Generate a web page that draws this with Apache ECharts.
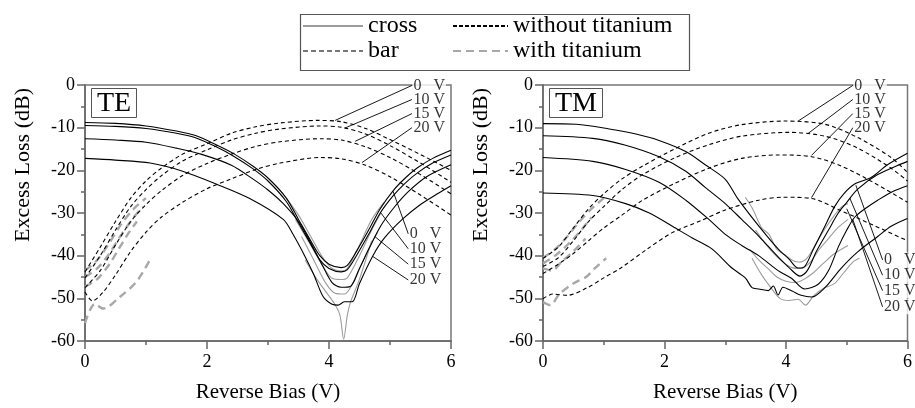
<!DOCTYPE html>
<html>
<head>
<meta charset="utf-8">
<title>Excess loss vs reverse bias</title>
<script src="https://cdn.jsdelivr.net/npm/echarts@6/dist/echarts.min.js"></script>
<style>
  html, body { margin: 0; padding: 0; background: #fff; }
  #main { width: 915px; height: 408px; }
</style>
</head>
<body>
<div id="main"></div>
<script>
// values, [reverse bias (V), excess loss (dB)]
var voltLabels = ['0   V', '10 V', '15 V', '20 V'];

// ---- TE ----
// cross, without titanium (black solid)
var teCross0 = [[0,-8.8],[0.5,-9.0],[1,-9.6],[1.5,-10.8],[1.8,-11.8],[2.15,-14],[2.45,-16.2],[2.75,-19],[3,-21.8],[3.3,-26.5],[3.5,-31.5],[3.7,-36.5],[3.85,-40],[4,-42],[4.2,-42.8],[4.3,-42.3],[4.45,-39],[4.65,-34],[4.84,-29],[5.05,-24.8],[5.25,-21.8],[5.45,-19.4],[5.7,-17.2],[6,-15.3]];
var teCross10 = [[0,-9.5],[0.5,-9.7],[1,-10.2],[1.5,-11.3],[1.8,-12.3],[2.15,-14.5],[2.45,-16.8],[2.75,-19.6],[3,-22.5],[3.3,-27.3],[3.5,-32.3],[3.7,-37.3],[3.85,-41],[4,-43],[4.2,-43.8],[4.3,-43.3],[4.45,-40],[4.65,-35],[4.84,-30],[5.05,-26],[5.25,-23],[5.45,-20.6],[5.7,-18.3],[6,-16.4]];
var teCross15 = [[0,-12.6],[0.5,-12.9],[1,-13.4],[1.5,-14.8],[1.9,-16.2],[2.4,-18.8],[2.75,-22],[3,-24.6],[3.25,-27.8],[3.5,-32],[3.7,-37],[3.9,-42.5],[4.05,-46.3],[4.2,-47.4],[4.35,-47.2],[4.5,-43],[4.65,-38.5],[4.85,-33],[5.05,-29],[5.3,-25],[5.6,-21.5],[6,-18.7]];
var teCross20 = [[0,-17.2],[0.5,-17.6],[1.07,-18.3],[1.6,-20.2],[2.15,-23.2],[2.7,-26.6],[3.25,-31.5],[3.41,-35],[3.6,-40],[3.75,-44.4],[3.9,-49.5],[4.05,-51.4],[4.15,-51.6],[4.25,-50.8],[4.38,-50.8],[4.5,-46.5],[4.72,-40],[4.9,-36],[5.2,-31.5],[5.5,-28],[5.8,-25.3],[6,-23.6]];
// cross, with titanium (grey solid)
var teCrossTi0 = [[3.3,-26.5],[3.5,-30.5],[3.7,-35.5],[3.9,-40.5],[4.05,-43],[4.2,-43.6],[4.3,-43],[4.5,-37.5],[4.7,-31.5],[4.9,-27.5]];
var teCrossTi10 = [[3.45,-31.5],[3.7,-37.5],[3.9,-42.5],[4.05,-45.3],[4.2,-45.6],[4.3,-45.2],[4.5,-40],[4.7,-34],[4.85,-30]];
var teCrossTi15 = [[3.55,-35.5],[3.75,-41],[3.95,-46.5],[4.1,-48.8],[4.25,-49],[4.35,-47.5],[4.5,-43],[4.7,-37],[4.8,-34.5]];
var teCrossTi20 = [[3.61,-41],[3.8,-45.5],[3.95,-48.5],[4.1,-51.5],[4.18,-54],[4.24,-59.6],[4.3,-54],[4.35,-51],[4.5,-45.5],[4.7,-36.5]];
// bar, without titanium (black dashed)
var teBar0 = [[0,-43.8],[0.25,-38],[0.5,-32],[0.75,-26.5],[1,-22.5],[1.25,-19.5],[1.6,-16.2],[2,-13.8],[2.4,-11.3],[2.8,-9.8],[3.2,-8.9],[3.8,-8.3],[4.2,-8.6],[4.6,-10.2],[5,-12.8],[5.5,-16.3],[6,-20]];
var teBar10 = [[0,-45.2],[0.25,-40],[0.5,-34],[0.75,-28.5],[1,-24.5],[1.25,-21.3],[1.6,-17.8],[2,-15.2],[2.4,-12.9],[2.8,-11.3],[3.2,-10.3],[3.85,-9.6],[4.2,-9.9],[4.6,-11.5],[5,-14.2],[5.5,-18.3],[6,-22.8]];
var teBar15 = [[0,-47.5],[0.25,-43.5],[0.5,-37.5],[0.75,-32],[1,-28],[1.25,-24.8],[1.6,-21.2],[2,-18.4],[2.4,-16.2],[2.8,-14.4],[3.2,-13.3],[3.85,-12.6],[4.2,-12.9],[4.6,-14.5],[5,-17],[5.5,-21],[6,-25.5]];
var teBar20 = [[0,-48.5],[0.12,-50.6],[0.3,-48.5],[0.5,-44.5],[0.75,-39],[1,-34.5],[1.25,-31],[1.6,-27.5],[2,-24.3],[2.4,-22],[2.8,-19.8],[3.2,-18.3],[3.85,-17],[4.2,-17.3],[4.6,-18.8],[5,-21.5],[5.5,-25.8],[6,-30.5]];
// bar, with titanium (grey dashed)
var teBarTi0 = [[0,-43.5],[0.2,-41],[0.4,-37],[0.6,-32.5],[0.8,-29],[1,-26.5]];
var teBarTi10 = [[0,-45],[0.2,-43],[0.4,-39.5],[0.6,-35],[0.8,-31],[0.95,-28.5]];
var teBarTi15 = [[0,-47.3],[0.2,-45.5],[0.4,-42],[0.55,-38.5],[0.7,-35],[0.85,-32]];
var teBarTi20 = [[0,-55.8],[0.16,-51.3],[0.3,-52.4],[0.57,-49.7],[0.85,-46],[1.09,-40.3]];

// ---- TM ----
var tmCross0 = [[0,-9.05],[0.55,-9.2],[1.09,-10.3],[1.53,-11.5],[1.91,-13],[2.35,-15.6],[2.67,-18.7],[3.0,-22.1],[3.2,-26.5],[3.55,-33],[3.87,-38.4],[4.05,-40.8],[4.2,-42.9],[4.31,-42.5],[4.45,-38.5],[4.64,-33.1],[4.8,-28.5],[4.95,-25.5],[5.13,-23.2],[5.4,-21.7],[5.67,-18.7],[6,-16]];
var tmCross10 = [[0,-11.9],[0.82,-12.5],[1.36,-14.1],[1.91,-16.8],[2.35,-20.2],[2.67,-24],[3.0,-27.8],[3.27,-31.5],[3.55,-35.4],[3.87,-40.3],[4.05,-42.8],[4.23,-44.8],[4.35,-43.5],[4.5,-39],[4.7,-34],[4.86,-30],[5.0,-27.5],[5.18,-24.4],[5.51,-21],[6,-17.9]];
var tmCross15 = [[0,-17],[0.82,-17.9],[1.36,-19.8],[1.91,-22.8],[2.35,-27],[2.73,-31.5],[3.0,-35],[3.27,-37.6],[3.55,-40],[3.87,-43.5],[4.09,-45.3],[4.31,-47.8],[4.53,-46.7],[4.7,-43.5],[4.86,-38],[5.0,-34],[5.13,-31],[5.3,-29],[5.51,-27],[5.75,-25],[6,-23.6]];
var tmCross20 = [[0,-25.3],[0.82,-25.9],[1.36,-27.8],[1.75,-30],[2.13,-33.1],[2.45,-35.8],[2.78,-38.4],[3.11,-42.9],[3.33,-45.2],[3.44,-47.5],[3.55,-47.8],[3.71,-48.2],[3.79,-47.1],[3.87,-49.2],[3.95,-47.4],[4.1,-48.3],[4.25,-49.3],[4.42,-49.7],[4.64,-47.5],[4.91,-42.9],[5.18,-39.1],[5.51,-35.5],[5.73,-33.1],[6,-31.3]];
var tmCrossTi0 = [[3.33,-26.3],[3.45,-29],[3.6,-33.5],[3.72,-35],[3.85,-38.5],[4.0,-40],[4.12,-41.2],[4.22,-41.5],[4.35,-40.5],[4.5,-37],[4.65,-33.5],[4.8,-30.5],[4.92,-28.5],[5.02,-27.8]];
var tmCrossTi10 = [[3.5,-34],[3.65,-37],[3.8,-39.5],[3.95,-41.5],[4.1,-42.8],[4.25,-43],[4.4,-41.5],[4.55,-38.5],[4.7,-36],[4.85,-33.5],[5.02,-31.5]];
var tmCrossTi15 = [[3.4,-38.5],[3.55,-41],[3.7,-43],[3.85,-45],[4.0,-46],[4.15,-46.3],[4.3,-45.5],[4.45,-44],[4.6,-42],[4.8,-39.5],[5.02,-37.6]];
var tmCrossTi20 = [[3.44,-40.6],[3.6,-44.5],[3.75,-47.5],[3.9,-50],[4.05,-50.5],[4.2,-50.2],[4.32,-51.6],[4.45,-49.5],[4.6,-47.8],[4.8,-46.5],[4.95,-44],[5.1,-41.5],[5.21,-40.6]];
var tmBar0 = [[0,-40.6],[0.25,-38],[0.5,-33.5],[0.75,-29],[1.0,-25.5],[1.3,-22],[1.64,-19],[2.18,-14.9],[2.73,-11.3],[3.27,-9.3],[3.98,-8.45],[4.64,-9.2],[5.18,-12.3],[5.73,-17],[6,-20.5]];
var tmBar10 = [[0,-42.5],[0.25,-40.5],[0.5,-36.5],[0.75,-32],[1.0,-28.5],[1.3,-24.5],[1.64,-21],[2.18,-17],[2.73,-14],[3.27,-12],[4.04,-11.1],[4.64,-12],[5.18,-14.8],[5.73,-19.5],[6,-22.5]];
var tmBar15 = [[0,-44.2],[0.25,-42],[0.5,-39.5],[0.75,-36.5],[1.0,-33.5],[1.3,-30.5],[1.64,-27],[2.18,-23],[2.73,-19.5],[3.27,-17.2],[3.87,-16.4],[4.42,-16.8],[4.91,-19],[5.46,-23],[6,-27.5]];
var tmBar20 = [[0,-50.1],[0.16,-49],[0.4,-49.3],[0.73,-47.5],[1.0,-45.2],[1.28,-42.9],[1.71,-38.5],[2.13,-34.6],[2.6,-31.8],[3.0,-29.3],[3.55,-27],[3.96,-26.3],[4.42,-26.6],[4.91,-29.5],[5.46,-33],[6,-36.5]];
var tmBarTi0 = [[0,-40.5],[0.2,-38.5],[0.4,-35.5],[0.6,-32],[0.8,-29],[1.0,-26.5]];
var tmBarTi10 = [[0,-41.8],[0.2,-40],[0.4,-37.5],[0.6,-34.5],[0.8,-31]];
var tmBarTi15 = [[0,-43],[0.15,-43.5],[0.3,-41.5],[0.5,-39],[0.7,-36]];
var tmBarTi20 = [[0,-50.9],[0.12,-51.6],[0.27,-49],[0.5,-46.5],[0.71,-45],[0.85,-43],[1.04,-40.6]];

// voltage labels and the points their leader lines go to
var teTopLabelAt = [[5.36,-0.1],[5.36,-3.4],[5.36,-6.7],[5.36,-10]];
var teTopLeaderTo = [[4.10,-8.3],[4.26,-10.1],[4.43,-13.2],[4.54,-18.2]];
var teBotLabelAt = [[5.30,-34.9],[5.30,-38.4],[5.30,-42],[5.30,-45.7]];
var teBotLeaderTo = [[5.05,-24.9],[4.84,-29.8],[4.75,-35.5],[4.72,-40.2]];
var tmTopLabelAt = [[5.10,-0.1],[5.10,-3.4],[5.10,-6.7],[5.10,-10]];
var tmTopLeaderTo = [[4.20,-8.45],[4.36,-11.4],[4.42,-16.5],[4.42,-26.4]];
var tmBotLabelAt = [[5.59,-41],[5.59,-44.6],[5.59,-48.2],[5.59,-52]];
var tmBotLeaderTo = [[5.15,-23.5],[5.05,-26.5],[5.0,-29],[5.1,-31.5]];

var FONT = '"Liberation Serif", "Times New Roman", serif';
var AX = '#666';

var styles = {
    crossNoTi: { color: '#000', width: 1.1, type: 'solid' },
    crossTi:   { color: '#9c9c9c', width: 1.1, type: 'solid' },
    barNoTi:   { color: '#000', width: 1.1, type: [4, 3] },
    barTi:     { color: '#a8a8a8', width: 2.4, type: [8, 5] }
};

function curve(gi, data, kind, z) {
    return {
        type: 'line', xAxisIndex: gi, yAxisIndex: gi, data: data,
        symbol: 'none', smooth: 0.3, silent: true, z: z,
        lineStyle: styles[kind]
    };
}

function labels(gi, pos, ends) {
    var pts = pos.map(function (p, i) { return [p[0], p[1], voltLabels[i]]; });
    var lines = pos.map(function (p, i) { return [{ coord: p }, { coord: ends[i] }]; });
    return {
        type: 'scatter', xAxisIndex: gi, yAxisIndex: gi, data: pts,
        symbolSize: 1, itemStyle: { color: 'rgba(0,0,0,0)' }, silent: true, z: 10, clip: false,
        label: {
            show: true, position: 'right', distance: 0,
            formatter: function (p) { return p.data[2]; },
            fontFamily: FONT, fontSize: 16, color: '#000',
            backgroundColor: '#fff', padding: [0, 1], lineHeight: 15
        },
        markLine: {
            silent: true, symbol: ['none', 'none'], animation: false,
            label: { show: false },
            lineStyle: { color: '#000', width: 0.9, type: 'solid' },
            data: lines
        }
    };
}

function xAx(gi) {
    return {
        gridIndex: gi, type: 'value', min: 0, max: 6, interval: 2,
        name: 'Reverse Bias (V)', nameLocation: 'middle', nameGap: 41,
        nameTextStyle: { fontFamily: FONT, fontSize: 21, color: '#000' },
        axisLine: { show: true, onZero: false, lineStyle: { color: AX, width: 1.5 } },
        axisTick: { show: true, length: 8, lineStyle: { color: AX, width: 1.5 } },
        minorTick: { show: true, splitNumber: 2, length: 4, lineStyle: { color: AX, width: 1.5 } },
        axisLabel: { fontFamily: FONT, fontSize: 18, color: '#000', margin: 12 },
        splitLine: { show: false }
    };
}

function yAx(gi) {
    return {
        gridIndex: gi, type: 'value', min: -60, max: 0, interval: 10,
        name: 'Excess Loss (dB)', nameLocation: 'middle', nameGap: 51, nameRotate: 90,
        // the name sits above the middle of the axis in the original
        nameTextStyle: { fontFamily: FONT, fontSize: 22, color: '#000', padding: [0, 0, 0, 96] },
        axisLine: { show: true, onZero: false, lineStyle: { color: AX, width: 1.5 } },
        axisTick: { show: true, length: 8, lineStyle: { color: AX, width: 1.5 } },
        minorTick: { show: true, splitNumber: 2, length: 4, lineStyle: { color: AX, width: 1.5 } },
        axisLabel: { fontFamily: FONT, fontSize: 18, color: '#000', margin: 10 },
        splitLine: { show: false }
    };
}

function legendAt(name, left, top) {
    return {
        data: [name], left: left, top: top, padding: 0,
        itemWidth: name === 'cross' || name === 'bar' ? 60 : 55, itemHeight: 14,
        selectedMode: false,
        itemStyle: { color: 'rgba(0,0,0,0)', borderWidth: 0 },
        textStyle: { fontFamily: FONT, fontSize: 24, color: '#000' }
    };
}

function titleBox(text, left) {
    return {
        text: text, left: left, top: 93, padding: [1, 6, 0, 6],
        borderColor: '#555', borderWidth: 1,
        textStyle: { fontFamily: FONT, fontSize: 28, fontWeight: 'normal', color: '#000', lineHeight: 19 }
    };
}

var hidden = { color: 'rgba(0,0,0,0)' };
var series = [
    // legend-only entries
    { name: 'cross', type: 'line', data: [], symbol: 'none', itemStyle: hidden, lineStyle: { color: '#9c9c9c', width: 3 } },
    { name: 'bar', type: 'line', data: [], symbol: 'none', itemStyle: hidden, lineStyle: { color: '#777', width: 2.5, type: [5, 3] } },
    { name: 'without titanium', type: 'line', data: [], symbol: 'none', itemStyle: hidden, lineStyle: { color: '#000', width: 1.5, type: [4, 2] } },
    { name: 'with titanium', type: 'line', data: [], symbol: 'none', itemStyle: hidden, lineStyle: { color: '#a8a8a8', width: 3, type: [8, 5] } }
];

[[0, [teBarTi0, teBarTi10, teBarTi15, teBarTi20], [teCrossTi0, teCrossTi10, teCrossTi15, teCrossTi20],
      [teBar0, teBar10, teBar15, teBar20], [teCross0, teCross10, teCross15, teCross20]],
 [1, [tmBarTi0, tmBarTi10, tmBarTi15, tmBarTi20], [tmCrossTi0, tmCrossTi10, tmCrossTi15, tmCrossTi20],
      [tmBar0, tmBar10, tmBar15, tmBar20], [tmCross0, tmCross10, tmCross15, tmCross20]]
].forEach(function (p) {
    var gi = p[0];
    p[1].forEach(function (d) { series.push(curve(gi, d, 'barTi', 2)); });
    p[2].forEach(function (d) { series.push(curve(gi, d, 'crossTi', 3)); });
    p[3].forEach(function (d) { series.push(curve(gi, d, 'barNoTi', 4)); });
    p[4].forEach(function (d) { series.push(curve(gi, d, 'crossNoTi', 5)); });
});
series.push(labels(0, teTopLabelAt, teTopLeaderTo));
series.push(labels(0, teBotLabelAt, teBotLeaderTo));
series.push(labels(1, tmTopLabelAt, tmTopLeaderTo));
series.push(labels(1, tmBotLabelAt, tmBotLeaderTo));

var chart = echarts.init(document.getElementById('main'), null, { renderer: 'canvas' });
chart.setOption({
    animation: false,
    backgroundColor: '#fff',
    title: [titleBox('TE', 91), titleBox('TM', 549)],
    legend: [
        legendAt('cross', 302, 14),
        legendAt('bar', 302, 39),
        legendAt('without titanium', 452, 14),
        legendAt('with titanium', 452, 39)
    ],
    graphic: [{
        type: 'rect', left: 298, top: 12, silent: true,
        shape: { width: 389, height: 56 },
        style: { fill: 'none', stroke: '#555', lineWidth: 1.2 }
    }],
    grid: [
        { left: 85, top: 85, width: 366, height: 263, show: true, borderColor: '#777', borderWidth: 1.5 },
        { left: 543, top: 85, width: 367, height: 263, show: true, borderColor: '#777', borderWidth: 1.5 }
    ],
    xAxis: [xAx(0), xAx(1)],
    yAxis: [yAx(0), yAx(1)],
    series: series
});
</script>
</body>
</html>
